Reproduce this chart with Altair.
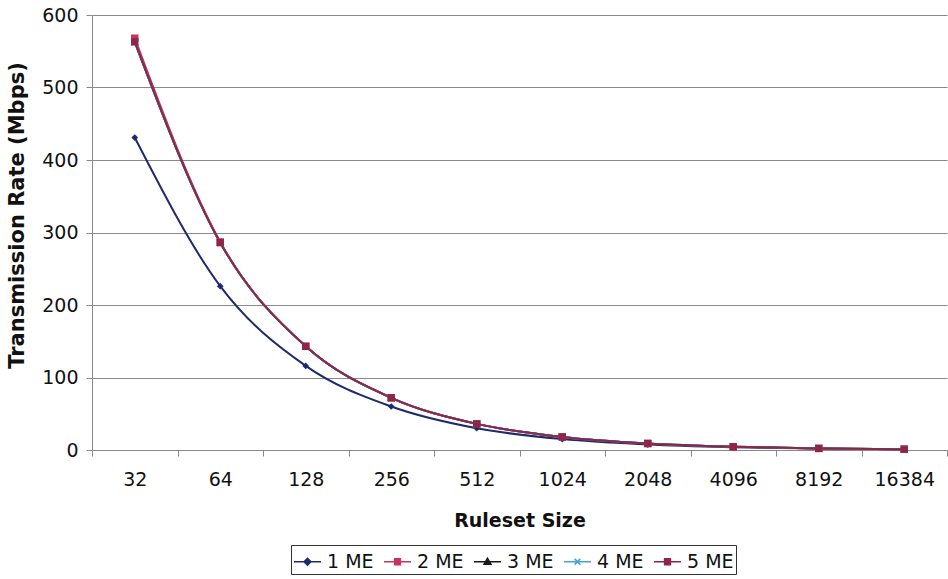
import altair as alt
import pandas as pd

sizes = ["32", "64", "128", "256", "512", "1024", "2048", "4096", "8192", "16384"]
series = ["1 ME", "2 ME", "3 ME", "4 ME", "5 ME"]
me1 = [431, 226, 116, 60, 30, 15, 7.5, 3.8, 1.9, 0.9]
me2 = [568, 287, 143, 72, 36, 18, 9, 4.5, 2.2, 1.1]
me3 = [563, 286, 143, 72, 36, 18, 9, 4.5, 2.2, 1.1]
me4 = [563, 286, 143, 72, 36, 18, 9, 4.5, 2.2, 1.1]
me5 = [563, 286, 143, 72, 36, 18, 9, 4.5, 2.2, 1.1]
colors = ["#1f2a6e", "#c5335f", "#1a1a1a", "#4aa3d8", "#8e2747"]

rows = []
for name, vals in zip(series, [me1, me2, me3, me4, me5]):
    for s, v in zip(sizes, vals):
        rows.append({"size": s, "rate": v, "series": name})
df = pd.DataFrame(rows)

FONT = "DejaVu Sans"

xenc = alt.X("size:N", sort=sizes,
             scale=alt.Scale(type="band", domain=sizes, paddingInner=0, paddingOuter=0),
             bandPosition=0.5,
             axis=alt.Axis(title="Ruleset Size", tickBand="extent", labelAngle=0,
                           labelFontSize=19, labelFont=FONT, labelColor="#111",
                           tickSize=6, tickColor="#888", domainColor="#888",
                           labelPadding=14, titleFontSize=19, titleFont=FONT,
                           titleFontWeight="bold", titleColor="#111",
                           titleY=76, titleBaseline="alphabetic"))
yenc = alt.Y("rate:Q", scale=alt.Scale(domain=[0, 600], nice=False),
             axis=alt.Axis(title="Transmission Rate (Mbps)", values=[0, 100, 200, 300, 400, 500, 600],
                           labelFontSize=19, labelFont=FONT, labelColor="#111",
                           tickSize=6, tickColor="#888", domainColor="#888",
                           labelPadding=8, gridColor="#8a8a8a", gridWidth=1,
                           titleFontSize=21, titleFont=FONT, titleFontWeight="bold",
                           titleColor="#111", titleX=-75, titleY=200,
                           titleAngle=270, titleAlign="center", titleBaseline="middle"))

legend = alt.Legend(title=None, orient="none", legendX=199, legendY=530, direction="horizontal",
                    labelFontSize=19, labelFont=FONT, labelColor="#111",
                    symbolSize=729, symbolStrokeWidth=1.6, labelOffset=5, columnPadding=6,
                    strokeColor="#333", padding=2)
cenc = alt.Color("series:N", scale=alt.Scale(domain=series, range=colors), legend=legend)
cenc_nolegend = alt.Color("series:N", scale=alt.Scale(domain=series, range=colors), legend=None)

base = alt.Chart(df)
lines = base.mark_line(interpolate="monotone", strokeWidth=2).encode(
    x=xenc, y=yenc, color=cenc)

marker_shapes = ["diamond", "square", "triangle-up", "M-1,-1L1,1M1,-1L-1,1", "square"]
marker_sizes = [45, 55, 50, 45, 55]
pts = []
for name, shp, sz in zip(series, marker_shapes, marker_sizes):
    filled = name != "4 ME"
    pts.append(base.transform_filter(alt.datum.series == name).mark_point(
        shape=shp, size=sz, filled=filled, opacity=1, strokeWidth=1.5 if not filled else 0.5
    ).encode(x=xenc, y=yenc, color=cenc_nolegend))

# legend symbols: a short line with the series marker on it
leg_paths = [
    "M-1,0L1,0M0,-0.25L0.25,0L0,0.25L-0.25,0Z",
    "M-1,0L1,0M-0.21,-0.21L0.21,-0.21L0.21,0.21L-0.21,0.21Z",
    "M-1,0L1,0M0,-0.25L0.25,0.19L-0.25,0.19Z",
    "M-1,0L1,0M-0.21,-0.21L0.21,0.21M0.21,-0.21L-0.21,0.21",
    "M-1,0L1,0M-0.21,-0.21L0.21,-0.21L0.21,0.21L-0.21,0.21Z",
]
# legend-only layer: values shifted far outside the y domain and clipped away
leg_layer = base.transform_calculate(rate="datum.rate - 100000").mark_point(
    filled=True, strokeWidth=2, opacity=1, clip=True).encode(
    x=xenc, y=yenc,
    shape=alt.Shape("series:N", scale=alt.Scale(domain=series, range=leg_paths), legend=legend),
)

chart = alt.layer(lines, *pts, leg_layer).properties(
    width=855, height=435,
    autosize=alt.AutoSizeParams(type="none"),
    padding={"left": 92, "top": 15, "right": 1, "bottom": 129},
    background="white",
).configure_view(stroke=None)

chart.save("out.html", embed_options={"renderer": "svg", "actions": False})
